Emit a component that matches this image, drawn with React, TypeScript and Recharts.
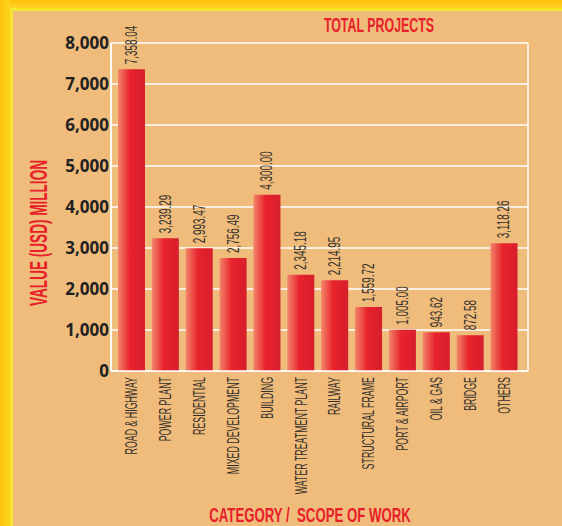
import React from "react";
import { BarChart, Bar, XAxis, YAxis, CartesianGrid, LabelList } from "recharts";

const categories = [
  "ROAD & HIGHWAY",
  "POWER PLANT",
  "RESIDENTIAL",
  "MIXED DEVELOPMENT",
  "BUILDING",
  "WATER TREATMENT PLANT",
  "RAILWAY",
  "STRUCTURAL FRAME",
  "PORT & AIRPORT",
  "OIL & GAS",
  "BRIDGE",
  "OTHERS",
];
const values = [7358.04, 3239.29, 2993.47, 2756.49, 4300.0, 2345.18, 2214.95, 1559.72, 1005.0, 943.62, 872.58, 3118.26];
const yTicks = [0, 1000, 2000, 3000, 4000, 5000, 6000, 7000, 8000];
const title = "TOTAL PROJECTS";
const xTitle = "CATEGORY /  SCOPE OF WORK";
const yTitle = "VALUE (USD) MILLION";

const data = categories.map((c, i) => ({ name: c, value: values[i] }));

const BG = "#F0BC7B";
const RED = "#E8202A";
const TEXT = "#35302c";
const FONT = "'Liberation Sans', Arial, sans-serif";

const fmtVal = (v: number) =>
  v.toLocaleString("en-US", { minimumFractionDigits: 2, maximumFractionDigits: 2 });
const fmtTick = (v: number) => v.toLocaleString("en-US");

const CategoryTick = (props: any) => {
  const { x, y, payload } = props;
  return (
    <g transform={`translate(${x},${y})`}>
      <text
        transform="rotate(-90) scale(0.52,1)"
        textAnchor="end"
        dominantBaseline="central"
        fontFamily={FONT}
        fontSize={17}
        fill={TEXT}
      >
        {payload.value}
      </text>
    </g>
  );
};

const ValueLabel = (props: any) => {
  const { x, y, width, value } = props;
  const cx = Number(x) + Number(width) / 2;
  const cy = Number(y) - 5;
  return (
    <g transform={`translate(${cx},${cy})`}>
      <text
        transform="rotate(-90) scale(0.6,1)"
        textAnchor="start"
        dominantBaseline="central"
        fontFamily={FONT}
        fontSize={16.5}
        fill={TEXT}
      >
        {fmtVal(Number(value))}
      </text>
    </g>
  );
};

const frameX = (p: any) => [p.offset.left, p.offset.left + p.offset.width];

export default function App() {
  return (
    <div
      style={{
        position: "absolute",
        left: 0,
        top: 0,
        width: 562,
        height: 526,
        background: BG,
        overflow: "hidden",
      }}
    >
      {/* yellow frame */}
      <div style={{ position: "absolute", left: 0, top: 0, width: 562, height: 8, background: "linear-gradient(#FFBE0A,#FFD22A)" }} />
      <div style={{ position: "absolute", left: 10, top: 8, width: 552, height: 3, background: "#F4E62C" }} />
      <div style={{ position: "absolute", left: 0, top: 0, width: 10, height: 526, background: "linear-gradient(90deg,#FDC40C,#FFD21C)" }} />
      <div style={{ position: "absolute", left: 10, top: 8, width: 3, height: 518, background: "#F4E62C" }} />

      <div style={{ position: "absolute", left: 0, top: 0 }}>
        <BarChart
          width={562}
          height={526}
          data={data}
          margin={{ top: 43, right: 34, bottom: 35, left: 61 }}
          barCategoryGap="10%"
        >
          <defs>
            <linearGradient id="barGrad" x1="0" y1="0" x2="1" y2="0">
              <stop offset="0%" stopColor="#F2866A" />
              <stop offset="45%" stopColor="#E8222C" />
              <stop offset="100%" stopColor="#D61F2C" />
            </linearGradient>
          </defs>
          <CartesianGrid
            vertical={true}
            verticalCoordinatesGenerator={frameX}
            stroke="#FFFFFF"
            strokeWidth={1.4}
          />
          <XAxis
            dataKey="name"
            interval={0}
            height={120}
            padding={{ left: 3.6, right: 7 }}
            axisLine={{ stroke: "#FFFFFF", strokeWidth: 1.5 }}
            tickLine={false}
            tickSize={0}
            tickMargin={6}
            tick={<CategoryTick />}
          />
          <YAxis
            width={50}
            domain={[0, 8000]}
            ticks={yTicks}
            interval={0}
            tickFormatter={fmtTick}
            axisLine={{ stroke: "#FFFFFF", strokeWidth: 1.5 }}
            tickLine={false}
            tickSize={0}
            tickMargin={2}
            tick={{ fontFamily: "'Open Sans', sans-serif", fontWeight: 700, fontSize: 17, fill: "#222222" }}
          />
          <Bar dataKey="value" fill="url(#barGrad)" isAnimationActive={false}>
            <LabelList dataKey="value" content={<ValueLabel />} />
          </Bar>
        </BarChart>
      </div>

      {/* titles */}
      <div
        style={{
          position: "absolute",
          left: 379,
          top: 25,
          transform: "translate(-50%,-50%) scaleX(0.62)",
          fontFamily: FONT,
          fontWeight: 700,
          fontSize: 20,
          color: RED,
          whiteSpace: "pre",
          lineHeight: 1,
        }}
      >
        {title}
      </div>
      <div
        style={{
          position: "absolute",
          left: 310,
          top: 515,
          transform: "translate(-50%,-50%) scaleX(0.66)",
          fontFamily: FONT,
          fontWeight: 700,
          fontSize: 20,
          color: RED,
          whiteSpace: "pre",
          lineHeight: 1,
        }}
      >
        {xTitle}
      </div>
      <div
        style={{
          position: "absolute",
          left: 39,
          top: 233,
          transform: "translate(-50%,-50%) rotate(-90deg) scaleX(0.59)",
          fontFamily: FONT,
          fontWeight: 700,
          fontSize: 23,
          color: RED,
          whiteSpace: "pre",
          lineHeight: 1,
        }}
      >
        {yTitle}
      </div>
    </div>
  );
}
